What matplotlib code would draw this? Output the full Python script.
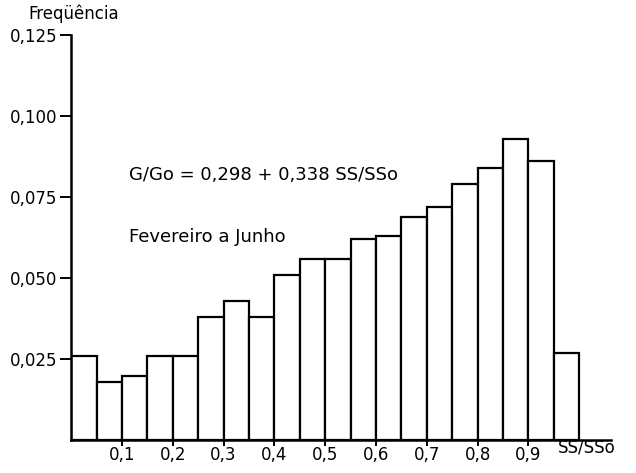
from matplotlib import pyplot as plt
import numpy as np

# Frequency histogram of SS/SSo (Feb-Jun), class width 0.05
bin_left = [0.00, 0.05, 0.10, 0.15, 0.20, 0.25, 0.30, 0.35, 0.40, 0.45,
            0.50, 0.55, 0.60, 0.65, 0.70, 0.75, 0.80, 0.85, 0.90, 0.95]
freq = [0.026, 0.018, 0.020, 0.026, 0.026, 0.038, 0.043, 0.038, 0.051, 0.056,
        0.056, 0.062, 0.063, 0.069, 0.072, 0.079, 0.084, 0.093, 0.086, 0.027]
bin_width = 0.05

xticks = [0.1, 0.2, 0.3, 0.4, 0.5, 0.6, 0.7, 0.8, 0.9]
xtick_labels = ["0,1", "0,2", "0,3", "0,4", "0,5", "0,6", "0,7", "0,8", "0,9"]
yticks = [0.025, 0.050, 0.075, 0.100, 0.125]
ytick_labels = ["0,025", "0,050", "0,075", "0,100", "0,125"]

plt.rcParams['font.family'] = ['DejaVu Sans']

f = plt.figure(figsize=[6.36, 4.73], dpi=100)
ax = f.add_axes([0.112, 0.069, 0.849, 0.857])

ax.bar(bin_left, freq, width=bin_width, align='edge',
       color='white', edgecolor='black', linewidth=1.6)

ax.set_xlim(0, 1.063)
ax.set_ylim(0, 0.125)
ax.spines['top'].set_visible(False)
ax.spines['right'].set_visible(False)
ax.spines['left'].set_linewidth(1.8)
ax.spines['bottom'].set_linewidth(1.8)

ax.set_xticks(xticks)
ax.set_xticklabels(xtick_labels, fontsize=12)
ax.set_yticks(yticks)
ax.set_yticklabels(ytick_labels, fontsize=12)
ax.tick_params(axis='x', direction='inout', length=8, width=1.4, pad=0)
ax.tick_params(axis='y', direction='out', length=8, width=1.4, pad=2)

f.text(0.044, 0.970, "Freqüência", fontsize=12, ha='left', va='center')
f.text(558 / 636, 1 - 447 / 473, "SS/SSo", fontsize=12, ha='left', va='center')
ax.text(0.113, 0.0818, "G/Go = 0,298 + 0,338 SS/SSo", fontsize=13,
        ha='left', va='center')
ax.text(0.113, 0.0627, "Fevereiro a Junho", fontsize=13,
        ha='left', va='center')

f.savefig("out.png", dpi=100)
